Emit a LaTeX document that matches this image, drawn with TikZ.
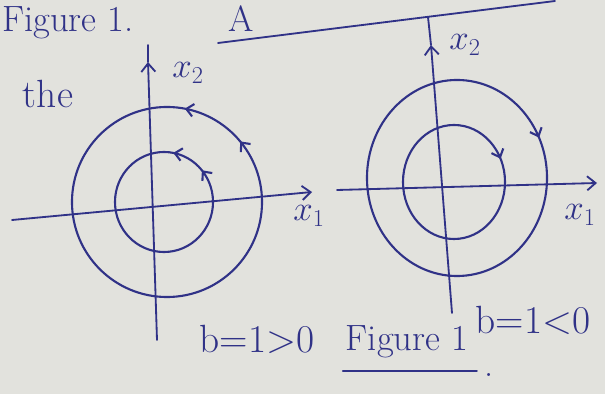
\documentclass[tikz,border=0pt]{standalone}
\usepackage{xcolor}
\usepackage{amsmath,amssymb}
\usetikzlibrary{positioning,arrows.meta,decorations.markings}
\definecolor{ink}{RGB}{48,50,135}
\definecolor{paper}{RGB}{226,226,221}

\begin{document}
\begin{tikzpicture}[x=0.025cm,y=0.025cm,
      ax/.style={color=ink,line width=1.3pt,line cap=round},
      orb/.style={color=ink,line width=1.5pt},
      tip/.style={-{Straight Barb[length=6pt,width=10pt]}},
      ccw/.style={postaction={decorate},decoration={markings,
        mark=at position 0.11 with {\arrow{Straight Barb[length=5pt,width=9pt]}},
        mark=at position 0.22 with {\arrow{Straight Barb[length=5pt,width=9pt]}}}},
      cwr/.style={postaction={decorate},decoration={markings,
        mark=at position 0.07 with {\arrowreversed{Straight Barb[length=5pt,width=9pt]}}}},
      lbl/.style={text=ink,font=\fontsize{26}{30}\selectfont,inner sep=0pt},
      big/.style={lbl,font=\fontsize{28}{32}\selectfont}]
    \fill[paper] (0,0) rectangle (605,394);
    \useasboundingbox (0,0) rectangle (605,394);
    % page text around the figure
    \node[lbl,anchor=base west] (figT) at (2,362) {Figure 1.};
    \node[big,anchor=base] (theT) at (48,286) {the};
    \node[lbl,anchor=base west] (aT) at (228,362) {A};
    \coordinate (ruleL) at (218,351); \coordinate (ruleR) at (555,393);
    \draw[ax] (ruleL) -- (ruleR);
    % left plane, b>0
    \coordinate (hlL) at (12,174); \coordinate (hrL) at (312,202);
    \coordinate (vbL) at (157,54); \coordinate (vaL) at (148,332); \coordinate (vtL) at (148,349);
    \draw[ax,tip] (hlL) -- (hrL);
    \draw[ax,tip] (vbL) -- (vaL); \draw[ax] (vaL) -- (vtL);
    \draw[orb,ccw] (167,192) ellipse (2.375cm and 2.375cm);
    \draw[orb,ccw] (164,192) ellipse (1.225cm and 1.25cm);
    \node[lbl] (xtwoL) at (188,321) {$x_2$};
    \node[lbl] (xoneL) at (309,178) {$x_1$};
    \node[big] (bL) at (257,55) {b=1>0};
    % right plane, b<0
    \coordinate (hlR) at (337,204); \coordinate (hrR) at (597,211);
    \coordinate (vbR) at (452,81); \coordinate (vaR) at (431,349); \coordinate (vtR) at (428,377);
    \draw[ax,tip] (hlR) -- (hrR);
    \draw[ax,tip] (vbR) -- (vaR); \draw[ax] (vaR) -- (vtR);
    \draw[orb,cwr] (457,216) ellipse (2.25cm and 2.45cm);
    \draw[orb,cwr] (454,212) ellipse (1.275cm and 1.425cm);
    \node[lbl] (xtwoR) at (465,349) {$x_2$};
    \node[lbl] (xoneR) at (580,179) {$x_1$};
    \node[big] (bR) at (533,74) {b=1<0};
    % caption
    \node[lbl] (figB) at (407,52) {Figure 1};
    \draw[ax] ([yshift=-9pt,xshift=-2pt]figB.south west) -- ([yshift=-9pt,xshift=6pt]figB.south east);
    \node[lbl,anchor=base west] (dotB) at (484,17) {.};
  \end{tikzpicture}
\end{document}
